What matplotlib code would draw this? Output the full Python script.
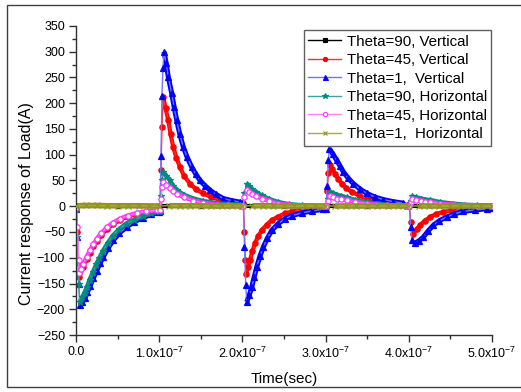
"""Current response of load for the six theta / orientation cases."""

import numpy as np
import matplotlib
matplotlib.use("Agg")
import matplotlib.pyplot as plt
from matplotlib.lines import Line2D
from matplotlib.patches import Rectangle

plt.rcParams["font.family"] = ["Liberation Sans", "DejaVu Sans"]
plt.rcParams["mathtext.default"] = "regular"

# time in ns, current in A
t_black = [0, 50, 99.5, 100.8, 150, 199, 201.1, 250, 299, 300.6, 350, 399, 400.8, 450, 500]
v_black = [0, 0, 0, 0, 0, 0, 0, 0, 0, 0, 0, 0, 0, 0, 0]

t_red = [0, 1.5, 3, 3.7, 8.6, 12.5, 16.6, 20.5, 24.7, 30, 36.7, 44, 52.7, 62, 72.8, 84, 96.9,
         100.8, 102, 103.2, 104.8, 107.5, 110.8, 113.5, 116.8, 120.5, 124.9, 130, 136.9,
         144, 152.9, 162, 173, 185, 197,
         201.1, 202.5, 203.5, 204.4, 206.5, 209.1, 212, 215.2, 219, 223.2, 229, 235.3, 243,
         251.3, 260, 271.4, 284, 297.4,
         300.6, 302, 303.5, 305.4, 308.3, 311.5, 315.5, 319.5, 325, 331.5, 340, 349.6, 361,
         373.7, 393.6,
         400.8, 402.5, 405.6, 409.5, 413.7, 419.5, 425.8, 433, 441.8, 452, 465.8, 480, 494, 500]
v_red = [-5, -50, -110, -137, -118, -103, -90, -78, -68, -56, -45, -35, -27, -20, -15, -12, -9,
         -9, 70, 154, 212, 190, 167, 140, 115, 94, 76, 58, 44,
         33, 25, 18, 12, 8, 6,
         6, -50, -105, -131, -118, -105, -87, -72, -58, -47, -36, -27, -20,
         -14, -10, -6, -4, -3,
         -3, 30, 65, 80, 72, 63, 53, 44, 35, 28, 21, 15, 10,
         6, 4,
         4, -30, -53, -45, -37, -28, -21, -15, -11, -8, -5, -4, -3, -3]

t_blue = [0, 1.5, 3, 4.6, 7.5, 10.6, 13.5, 16.6, 20.5, 24.7, 28.5, 32.6, 38, 44.6, 52, 60.8,
          70, 80.7, 90, 99.5,
          100.8, 102, 103.2, 104.3, 105.7, 108.2, 110.8, 114.9, 117.8, 120.9, 124.6, 128.9,
          133.5, 139, 144, 149, 155, 161, 168, 177, 187, 197,
          201.1, 202.5, 204, 205.2, 208.2, 211.2, 214.2, 217.2, 221, 225.2, 230, 235.3, 243,
          251.3, 260, 271.4, 284, 297.4,
          300.6, 302, 303.4, 304.6, 309, 313.5, 317.5, 321.4, 327, 333.5, 341, 349.6, 359,
          369.6, 381, 393.6,
          400.8, 402.5, 404, 407.7, 412.5, 417.7, 423.5, 429.7, 437, 445.8, 455, 465.8, 480,
          494, 500]
v_blue = [-5, -60, -150, -192, -186, -178, -167, -155, -140, -125, -111, -98, -82, -66, -52, -40,
          -30, -22, -16, -12,
          -10, 98, 215, 268, 300, 278, 251, 219, 193, 167, 140, 115,
          95, 76, 62, 50, 40, 31, 23, 15, 11, 8,
          8, -79, -153, -186, -173, -157, -137, -118, -97, -79, -62, -47, -34,
          -24, -18, -13, -9, -6,
          -6, 40, 90, 112, 101, 89, 78, 67, 55, 44, 34, 25, 18,
          13, 9, 6,
          5, -40, -65, -72, -67, -60, -48, -37, -28, -21, -15, -10, -7,
          -5, -4]

t_teal = [0, 1.5, 3, 4.2, 7, 10, 13, 16, 20, 24, 28, 32, 38, 44, 52, 60, 70, 80, 90, 99.5,
          100.8, 102, 103.5, 104.8, 108.5, 112.9, 116.5, 120.9, 130, 140.9, 153, 169.1, 183, 197,
          201.1, 202.5, 205.2, 208, 211, 216.5, 223.2, 232, 243.2, 256, 271.4, 297.4,
          300.6, 302.5, 305.4, 309.5, 313.5, 319, 325.5, 336, 349.6, 361, 373.7, 397,
          400.8, 402.5, 403.7, 409, 415, 420, 425.8, 438, 453.8, 467, 482, 500]
v_teal = [-5, -60, -150, -185, -177, -168, -156, -143, -128, -113, -100, -87, -71, -57, -44,
          -34, -26, -19, -14, -10,
          -10, 20, 50, 66, 59, 50, 40, 31, 22, 15, 10, 6, 4, 3,
          3, 25, 44, 39, 33, 27, 21, 14, 8, 4, 2, 0,
          0, 15, 28, 25, 22, 20, 17, 12, 8, 5, 3, 1,
          1, 10, 19, 17, 15, 13, 12, 8, 5, 3, 2, 1]

t_pink = [0, 1.5, 3, 3.7, 6, 8.6, 12.5, 16.6, 20.5, 24.7, 30, 36.7, 44, 52.7, 62, 72.8, 84, 96.9,
          100.8, 102, 103.5, 104.5, 108.5, 112.9, 116.5, 120.9, 130, 140.9, 153, 169.1, 183, 197,
          201.1, 202.5, 205.2, 208, 211, 216.5, 223.2, 232, 243.2, 256, 271.4, 297.4,
          300.6, 302.5, 305.4, 309.5, 313.5, 319, 325.5, 336, 349.6, 361, 373.7, 397,
          400.8, 402.5, 403.7, 409, 415, 420, 425.8, 438, 453.8, 467, 482, 500]
v_pink = [-3, -40, -105, -130, -122, -112, -98, -85, -74, -63, -52, -41, -32, -24, -18, -13, -10, -8,
          -8, 15, 38, 47, 42, 36, 30, 24, 17, 11, 6, 3, 2, 1,
          1, 18, 31, 27, 23, 19, 15, 10, 5, 3, 1, 0,
          0, 10, 19, 17, 15, 14, 12, 8, 5, 3, 2, 0,
          0, 8, 15, 13, 11, 9, 8, 5, 3, 2, 1, 1]

t_olive = [0, 12, 25, 37, 50, 62, 75, 87, 99.5, 112, 125, 137, 150, 162, 175, 187, 199,
           212, 225, 237, 250, 262, 275, 287, 299, 312, 325, 337, 350, 362, 375, 387, 399,
           412, 425, 437, 450, 462, 475, 487, 500]
v_olive = [1, 1.5, 1.5, 1, 1, 1, 1, 0.5, 0.5, 1, 1, 1, 1, 0.5, 0.5, 0.5, 0.5,
           1, 1, 0.5, 0.5, 0.5, 0.5, 0.5, 0.5, 0.5, 0.5, 0.5, 0.5, 0.5, 0.5, 0.5, 0.5,
           0.5, 0.5, 0.5, 0.5, 0.5, 0.5, 0.5, 0.5]

labels = ["Theta=90, Vertical", "Theta=45, Vertical", "Theta=1,  Vertical",
          "Theta=90, Horizontal", "Theta=45, Horizontal", "Theta=1,  Horizontal"]

series = [
    # t, v, marker colour, thin line colour, marker, face, size, band width
    (t_black, v_black, "#000000", "#000000", "s", "#000000", 3.5, 3.0),
    (t_red, v_red, "#ff0000", "#ff3030", "o", "#ff0000", 3.8, 3.0),
    (t_blue, v_blue, "#0000ff", "#7474ff", "^", "#0000ff", 4.5, 3.6),
    (t_teal, v_teal, "#008b80", "#3aa5a0", "*", "#008b80", 5.0, 3.2),
    (t_pink, v_pink, "#ff33ff", "#ff80ff", "o", "white", 3.8, 3.0),
    (t_olive, v_olive, "#939320", "#a8a850", "x", "#80800a", 4.0, 4.0),
]


def decay_parts(t, v):
    """Sections from each pulse peak to the next pulse (drawn as the thick band)."""
    t = np.asarray(t, float)
    v = np.asarray(v, float)
    parts = []
    for k in range(5):
        idx = np.where((t >= k * 100) & ((t < (k + 1) * 100) | (k == 4)))[0]
        if np.abs(v[idx]).max() < 5:
            parts.append((t[idx], v[idx]))
            continue
        p = idx[np.argmax(np.abs(v[idx]))]
        parts.append((t[p:idx[-1] + 1], v[p:idx[-1] + 1]))
    return parts


fig = plt.figure(figsize=(5.21, 3.92), dpi=100)
ax = fig.add_axes([0.1463, 0.1454, 0.7975, 0.7883])

handles = []
for i, ((t, v, mc, lc, mk, face, ms, bw), lab) in enumerate(zip(series, labels)):
    z = 2 + i * 0.1
    ts = np.asarray(t) * 1e-9
    for pt, pv in decay_parts(t, v):
        ax.plot(pt * 1e-9, pv, color=mc, lw=bw, solid_capstyle="butt", zorder=z)
    ax.plot(ts, v, color=lc, lw=1.0, marker=mk, ms=ms, mfc=face, mec=mc,
            mew=0.9, zorder=z + 0.05)
    handles.append(Line2D([], [], color=lc, lw=1.0, marker=mk, ms=ms * 0.8,
                          mfc=face, mec=mc, mew=0.8, label=lab))

ax.set_xlim(0, 5e-7)
ax.set_ylim(-250, 350)
ax.set_xticks(np.arange(0, 6) * 1e-7)
ax.set_xticklabels(["0.0"] + [f"{i}.0x10$^{{-7}}$" for i in range(1, 6)])
ax.set_xticks(np.arange(0.5, 5, 1) * 1e-7, minor=True)
ax.set_yticks(np.arange(-250, 351, 50))
ax.set_yticks(np.arange(-225, 350, 50), minor=True)

for side in ("top", "right"):
    ax.spines[side].set_visible(False)
for side in ("left", "bottom"):
    ax.spines[side].set_color("#303030")
    ax.spines[side].set_linewidth(1.0)
ax.tick_params(which="major", direction="out", length=5, width=1.0,
               labelsize=9, pad=3, color="#303030")
ax.tick_params(which="minor", direction="out", length=3, width=1.0,
               color="#303030")

ax.set_xlabel("Time(sec)", fontsize=11, labelpad=8)
ax.set_ylabel("Current response of Load(A)", fontsize=11.5)
ax.yaxis.set_label_coords(-0.102, 0.424)

leg = ax.legend(handles=handles, loc="upper left", bbox_to_anchor=(0.548, 0.987),
                borderaxespad=0, fontsize=10.8, numpoints=1, handlelength=2.2,
                handletextpad=0.35, labelspacing=0.3, borderpad=0.3,
                fancybox=False, framealpha=1, edgecolor="#606060")
leg.get_frame().set_linewidth(1.0)
leg.set_zorder(5)

fig.add_artist(Rectangle((7 / 521, 5 / 392), 1.05, 382 / 392, transform=fig.transFigure,
                         fill=False, edgecolor="#404040", lw=1.0, clip_on=False))

fig.savefig("out.png", dpi=100)
